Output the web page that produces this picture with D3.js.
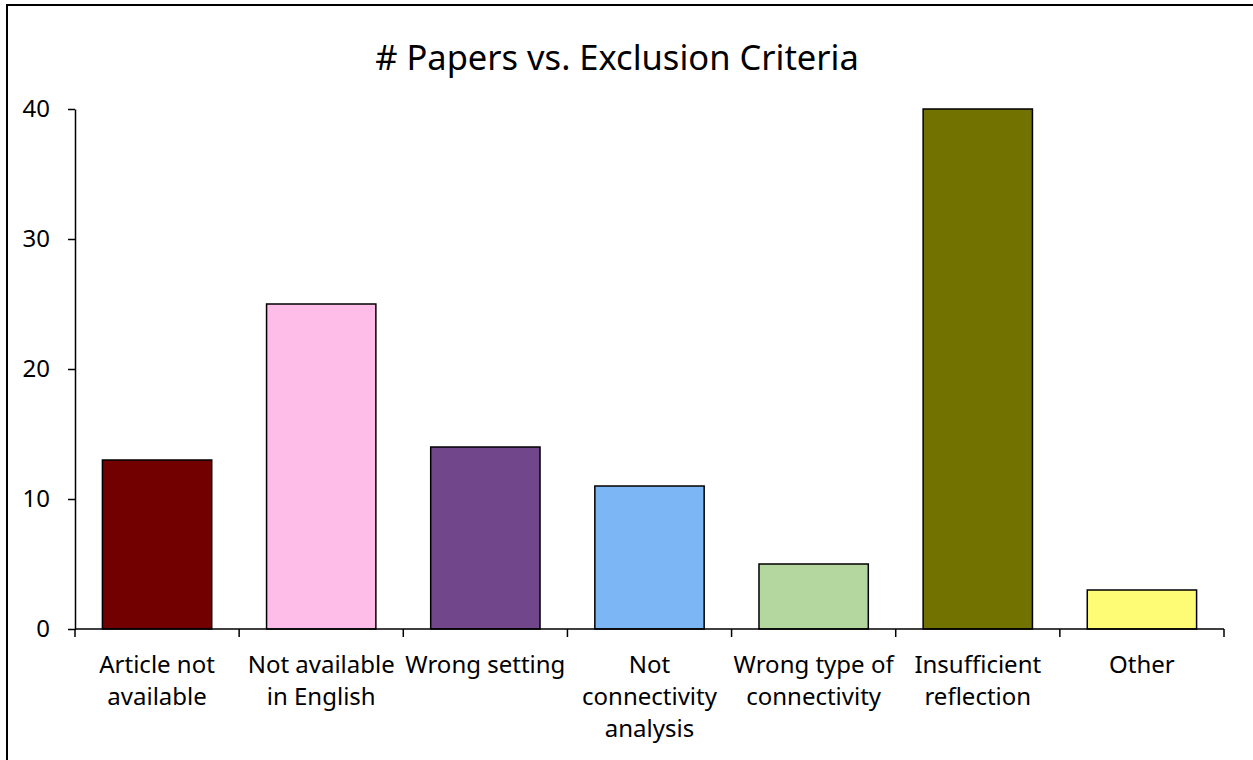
<!DOCTYPE html>
<html>
<head>
<meta charset="utf-8">
<script src="https://cdn.jsdelivr.net/npm/d3@7"></script>
<style>
  html, body { margin: 0; padding: 0; background: #fff; }
  svg { display: block; font-family: "Noto Sans", "Open Sans", sans-serif; }
</style>
</head>
<body>
<svg id="chart" width="1253" height="760"></svg>
<script>
const categories = [
  ["Article not", "available"],
  ["Not available", "in English"],
  ["Wrong setting"],
  ["Not", "connectivity", "analysis"],
  ["Wrong type of", "connectivity"],
  ["Insufficient", "reflection"],
  ["Other"]
];
const values = [13, 25, 14, 11, 5, 40, 3];
const colors = ["#720000", "#FEBCE9", "#71468A", "#7DB6F4", "#B4D79F", "#727200", "#FEFC75"];
const yTicks = [0, 10, 20, 30, 40];
const title = "# Papers vs. Exclusion Criteria";

const svg = d3.select("#chart");
const m = { left: 75, right: 1224, top: 109, bottom: 629 };

svg.append("rect").attr("x", 7).attr("y", 5).attr("width", 1400).attr("height", 1000)
  .attr("fill", "#fff").attr("stroke", "#000").attr("stroke-width", 2);

const idx = d3.range(categories.length);
const x = d3.scaleBand().domain(idx).range([m.left, m.right]).paddingInner(0.334).paddingOuter(0.167);
const y = d3.scaleLinear().domain([0, 40]).range([m.bottom, m.top]);

svg.append("text").attr("x", 617).attr("y", 70)
  .attr("text-anchor", "middle").attr("font-size", 34.5).attr("fill", "#000").text(title);

// bars
svg.append("g").selectAll("rect").data(idx).join("rect")
  .attr("x", i => x(i)).attr("width", x.bandwidth())
  .attr("y", i => y(values[i])).attr("height", i => y(0) - y(values[i]))
  .attr("fill", i => colors[i]).attr("stroke", "#000").attr("stroke-width", 1.5);

// y axis
const yAxis = d3.axisLeft(y).tickValues(yTicks).tickSize(7).tickPadding(18).tickSizeOuter(0);
const gy = svg.append("g").attr("transform", `translate(${m.left},0)`).call(yAxis);
gy.selectAll("text").attr("font-size", 24).attr("fill", "#000").attr("font-family", "Noto Sans, Open Sans, sans-serif");
gy.selectAll("line,path").attr("stroke", "#000").attr("stroke-width", 1.5);

// x axis: line + boundary ticks
const step = x.step();
const bounds = d3.range(categories.length + 1).map(k => m.left + k * step);
const gx = svg.append("g");
gx.append("line").attr("x1", m.left).attr("x2", m.right).attr("y1", y(0)).attr("y2", y(0))
  .attr("stroke", "#000").attr("stroke-width", 1.5);
gx.selectAll("line.t").data(bounds).join("line").attr("class", "t")
  .attr("x1", d => d).attr("x2", d => d).attr("y1", y(0)).attr("y2", y(0) + 8)
  .attr("stroke", "#000").attr("stroke-width", 1.5);

const labels = svg.append("g").selectAll("text").data(idx).join("text")
  .attr("x", i => x(i) + x.bandwidth() / 2).attr("y", 673)
  .attr("text-anchor", "middle").attr("font-size", 24).attr("fill", "#000");
labels.each(function(i) {
  const t = d3.select(this);
  categories[i].forEach((line, j) => {
    t.append("tspan").attr("x", x(i) + x.bandwidth() / 2).attr("dy", j === 0 ? 0 : 32).text(line);
  });
});
</script>
</body>
</html>
